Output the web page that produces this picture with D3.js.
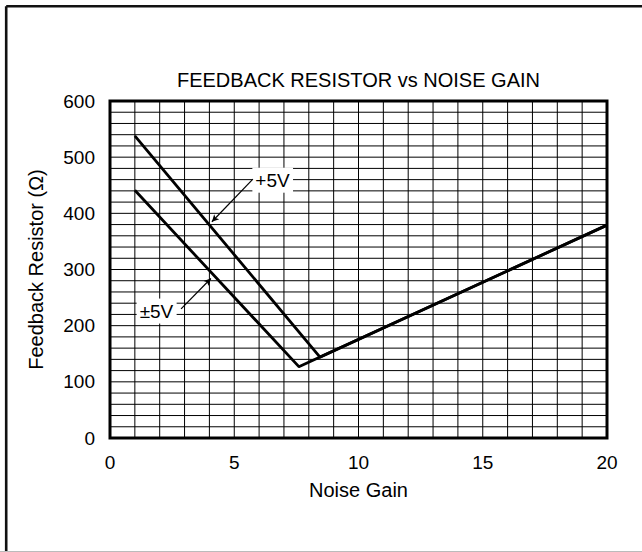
<!DOCTYPE html>
<html>
<head>
<meta charset="utf-8">
<title>Feedback Resistor vs Noise Gain</title>
<script src="https://d3js.org/d3.v7.min.js"></script>
<style>
  body { margin: 0; background: #fff; }
  svg text { font-family: "Liberation Sans", Arial, sans-serif; fill: #000; }
</style>
</head>
<body>
<script>
// data
var xTicks = [0, 5, 10, 15, 20];
var yTicks = [0, 100, 200, 300, 400, 500, 600];
var plus5V = [[1, 538], [8.45, 144], [20, 379]];
var dual5V = [[1, 441], [7.6, 127], [20, 379]];
var labels = ["+5V", "\u00b15V"];
// annotation: text position, arrow tail, arrow tip (data units)
var labelPos = [[5.85, 459], [1.87, 226]];
var arrowFrom = [[5.75, 461], [2.86, 230]];
var arrowTo = [[4.1, 385], [4.06, 284]];

var W = 642, H = 552;
var svg = d3.select("body").append("svg")
  .attr("width", W).attr("height", H);

// outer frame
svg.append("line").attr("x1", 6.2).attr("y1", 6.2).attr("x2", 6.2).attr("y2", H)
  .attr("stroke", "#111").attr("stroke-width", 2.6);
svg.append("line").attr("x1", 6.2).attr("y1", 6.2).attr("x2", W).attr("y2", 6.2)
  .attr("stroke", "#111").attr("stroke-width", 2.6);
svg.append("line").attr("x1", 0).attr("y1", 551.5).attr("x2", W).attr("y2", 551.5)
  .attr("stroke", "#bbb").attr("stroke-width", 1);

var x = d3.scaleLinear().domain([0, 20]).range([110, 607]);
var y = d3.scaleLinear().domain([0, 600]).range([438, 101]);

// grid
var g = svg.append("g");
g.selectAll(".vg").data(d3.range(1, 20)).enter().append("line")
  .attr("x1", function (d) { return x(d); }).attr("x2", function (d) { return x(d); })
  .attr("y1", y(600)).attr("y2", y(0))
  .attr("stroke", "#000").attr("stroke-width", 1);
g.selectAll(".hg").data(d3.range(20, 600, 20)).enter().append("line")
  .attr("y1", function (d) { return y(d); }).attr("y2", function (d) { return y(d); })
  .attr("x1", x(0)).attr("x2", x(20))
  .attr("stroke", "#000").attr("stroke-width", 1);

// plot border
svg.append("rect")
  .attr("x", x(0)).attr("y", y(600))
  .attr("width", x(20) - x(0)).attr("height", y(0) - y(600))
  .attr("fill", "none").attr("stroke", "#000").attr("stroke-width", 3);

// tick labels
svg.selectAll(".xt").data(xTicks).enter().append("text")
  .attr("x", function (d) { return x(d); }).attr("y", 462)
  .attr("text-anchor", "middle").attr("dominant-baseline", "central")
  .style("font-size", "19px").text(function (d) { return d; });
svg.selectAll(".yt").data(yTicks).enter().append("text")
  .attr("x", 95).attr("y", function (d) { return y(d); })
  .attr("text-anchor", "end").attr("dominant-baseline", "central")
  .style("font-size", "19px").text(function (d) { return d; });

// titles
svg.append("text").attr("x", (x(0) + x(20)) / 2).attr("y", 80)
  .attr("text-anchor", "middle").attr("dominant-baseline", "central")
  .style("font-size", "20px").text("FEEDBACK RESISTOR vs NOISE GAIN");
svg.append("text").attr("x", (x(0) + x(20)) / 2).attr("y", 490)
  .attr("text-anchor", "middle").attr("dominant-baseline", "central")
  .style("font-size", "20px").text("Noise Gain");
svg.append("text")
  .attr("transform", "translate(36," + ((y(0) + y(600)) / 2) + ") rotate(-90)")
  .attr("text-anchor", "middle").attr("dominant-baseline", "central")
  .style("font-size", "20px").text("Feedback Resistor (\u03a9)");

// curves
var line = d3.line()
  .x(function (d) { return x(d[0]); })
  .y(function (d) { return y(d[1]); });
svg.selectAll(".curve").data([dual5V, plus5V]).enter().append("path")
  .attr("d", line)
  .attr("fill", "none").attr("stroke", "#000").attr("stroke-width", 2.8)
  .attr("stroke-linejoin", "round");

// annotations
svg.append("defs").append("marker")
  .attr("id", "ah").attr("viewBox", "0 0 10 10")
  .attr("refX", 10).attr("refY", 5)
  .attr("markerWidth", 11).attr("markerHeight", 7)
  .attr("markerUnits", "userSpaceOnUse")
  .attr("orient", "auto")
  .append("path").attr("d", "M0,0 L10,5 L0,10 L2.5,5 Z").attr("fill", "#000");

labels.forEach(function (lab, i) {
  var t = svg.append("text")
    .attr("x", x(labelPos[i][0])).attr("y", y(labelPos[i][1]))
    .attr("text-anchor", i === 0 ? "start" : "middle")
    .attr("dominant-baseline", "central")
    .style("font-size", "19px").text(lab);
  var b = t.node().getBBox();
  svg.insert("rect", function () { return t.node(); })
    .attr("x", b.x - 3).attr("y", b.y - 2)
    .attr("width", b.width + 6).attr("height", b.height + 4)
    .attr("fill", "#fff");
  svg.append("line")
    .attr("x1", x(arrowFrom[i][0])).attr("y1", y(arrowFrom[i][1]))
    .attr("x2", x(arrowTo[i][0])).attr("y2", y(arrowTo[i][1]))
    .attr("stroke", "#000").attr("stroke-width", 1.2)
    .attr("marker-end", "url(#ah)");
});
</script>
</body>
</html>
